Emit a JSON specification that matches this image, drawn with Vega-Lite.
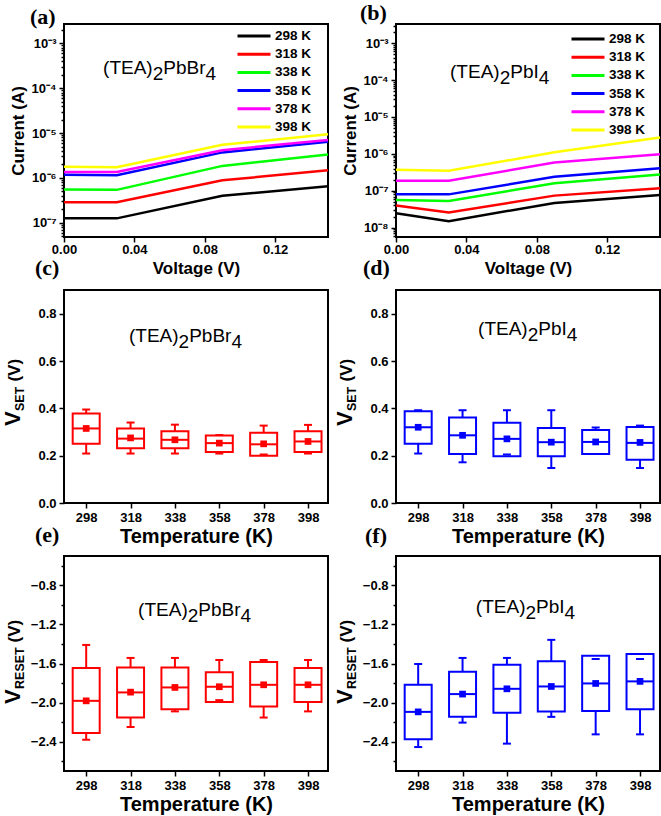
{
 "$schema": "https://vega.github.io/schema/vega-lite/v6.json",
 "background": "white",
 "padding": {"left": 0, "top": 0, "right": 0, "bottom": 0},
 "config": {
  "font": "Liberation Sans",
  "view": {"stroke": "black", "strokeWidth": 2},
  "axis": {"domain": false, "grid": false, "tickColor": "black", "tickWidth": 1.5, "labelFont": "Liberation Sans", "labelFontWeight": "bold", "labelFontSize": 13, "labelColor": "black", "labelPadding": 3, "labelFlush": false, "labelOverlap": false, "titleFont": "Liberation Sans", "titleFontWeight": "bold", "titleColor": "black", "titlePadding": 4},
  "title": {"font": "Liberation Serif", "fontSize": 22, "fontWeight": "bold", "anchor": "start", "frame": "group", "color": "black"},
  "text": {"font": "Liberation Sans", "color": "black"}
 },
 "resolve": {"scale": {"color": "independent"}, "legend": {"color": "independent"}},
 "datasets": {
  "iv_a": [
   {"T": "298 K", "V": 0, "I": 1.25e-7}, {"T": "298 K", "V": 0.03, "I": 1.25e-7}, {"T": "298 K", "V": 0.09, "I": 4.0e-7}, {"T": "298 K", "V": 0.15, "I": 6.5e-7},
   {"T": "318 K", "V": 0, "I": 2.85e-7}, {"T": "318 K", "V": 0.03, "I": 2.85e-7}, {"T": "318 K", "V": 0.09, "I": 8.8e-7}, {"T": "318 K", "V": 0.15, "I": 1.48e-6},
   {"T": "338 K", "V": 0, "I": 5.5e-7}, {"T": "338 K", "V": 0.03, "I": 5.4e-7}, {"T": "338 K", "V": 0.09, "I": 1.85e-6}, {"T": "338 K", "V": 0.15, "I": 3.3e-6},
   {"T": "358 K", "V": 0, "I": 1.17e-6}, {"T": "358 K", "V": 0.03, "I": 1.15e-6}, {"T": "358 K", "V": 0.09, "I": 3.7e-6}, {"T": "358 K", "V": 0.15, "I": 6.4e-6},
   {"T": "378 K", "V": 0, "I": 1.36e-6}, {"T": "378 K", "V": 0.03, "I": 1.36e-6}, {"T": "378 K", "V": 0.09, "I": 4.15e-6}, {"T": "378 K", "V": 0.15, "I": 7.0e-6},
   {"T": "398 K", "V": 0, "I": 1.76e-6}, {"T": "398 K", "V": 0.03, "I": 1.72e-6}, {"T": "398 K", "V": 0.09, "I": 5.45e-6}, {"T": "398 K", "V": 0.15, "I": 9.4e-6}
  ],
  "iv_b": [
   {"T": "298 K", "V": 0, "I": 2.45e-8}, {"T": "298 K", "V": 0.03, "I": 1.5e-8}, {"T": "298 K", "V": 0.09, "I": 4.7e-8}, {"T": "298 K", "V": 0.15, "I": 7.7e-8},
   {"T": "318 K", "V": 0, "I": 4.0e-8}, {"T": "318 K", "V": 0.03, "I": 2.6e-8}, {"T": "318 K", "V": 0.09, "I": 7.4e-8}, {"T": "318 K", "V": 0.15, "I": 1.18e-7},
   {"T": "338 K", "V": 0, "I": 5.6e-8}, {"T": "338 K", "V": 0.03, "I": 5.3e-8}, {"T": "338 K", "V": 0.09, "I": 1.6e-7}, {"T": "338 K", "V": 0.15, "I": 2.77e-7},
   {"T": "358 K", "V": 0, "I": 8.0e-8}, {"T": "358 K", "V": 0.03, "I": 8.0e-8}, {"T": "358 K", "V": 0.09, "I": 2.4e-7}, {"T": "358 K", "V": 0.15, "I": 4.1e-7},
   {"T": "378 K", "V": 0, "I": 1.87e-7}, {"T": "378 K", "V": 0.03, "I": 1.87e-7}, {"T": "378 K", "V": 0.09, "I": 5.85e-7}, {"T": "378 K", "V": 0.15, "I": 9.8e-7},
   {"T": "398 K", "V": 0, "I": 3.7e-7}, {"T": "398 K", "V": 0.03, "I": 3.5e-7}, {"T": "398 K", "V": 0.09, "I": 1.1e-6}, {"T": "398 K", "V": 0.15, "I": 2.77e-6}
  ],
  "set_br": [
   {"T": 298, "wlo": 0.209, "q1": 0.25, "med": 0.315, "q3": 0.378, "whi": 0.395, "mean": 0.315},
   {"T": 318, "wlo": 0.209, "q1": 0.231, "med": 0.272, "q3": 0.315, "whi": 0.34, "mean": 0.275},
   {"T": 338, "wlo": 0.209, "q1": 0.231, "med": 0.267, "q3": 0.303, "whi": 0.331, "mean": 0.267},
   {"T": 358, "wlo": 0.209, "q1": 0.216, "med": 0.253, "q3": 0.285, "whi": 0.287, "mean": 0.253},
   {"T": 378, "wlo": 0.205, "q1": 0.2, "med": 0.248, "q3": 0.297, "whi": 0.327, "mean": 0.25},
   {"T": 398, "wlo": 0.209, "q1": 0.215, "med": 0.26, "q3": 0.303, "whi": 0.33, "mean": 0.26}
  ],
  "set_i": [
   {"T": 298, "wlo": 0.209, "q1": 0.25, "med": 0.32, "q3": 0.388, "whi": 0.392, "mean": 0.32},
   {"T": 318, "wlo": 0.172, "q1": 0.207, "med": 0.286, "q3": 0.361, "whi": 0.392, "mean": 0.286},
   {"T": 338, "wlo": 0.205, "q1": 0.198, "med": 0.271, "q3": 0.339, "whi": 0.392, "mean": 0.271},
   {"T": 358, "wlo": 0.148, "q1": 0.198, "med": 0.257, "q3": 0.317, "whi": 0.392, "mean": 0.257},
   {"T": 378, "wlo": 0.207, "q1": 0.207, "med": 0.258, "q3": 0.308, "whi": 0.319, "mean": 0.258},
   {"T": 398, "wlo": 0.148, "q1": 0.183, "med": 0.254, "q3": 0.321, "whi": 0.327, "mean": 0.256}
  ],
  "reset_br": [
   {"T": 298, "wlo": -2.38, "q1": -2.31, "med": -1.982, "q3": -1.646, "whi": -1.41, "mean": -1.982},
   {"T": 318, "wlo": -2.25, "q1": -2.153, "med": -1.896, "q3": -1.64, "whi": -1.543, "mean": -1.893},
   {"T": 338, "wlo": -2.09, "q1": -2.067, "med": -1.845, "q3": -1.64, "whi": -1.543, "mean": -1.845},
   {"T": 358, "wlo": -1.975, "q1": -1.995, "med": -1.838, "q3": -1.69, "whi": -1.564, "mean": -1.838},
   {"T": 378, "wlo": -2.153, "q1": -2.04, "med": -1.818, "q3": -1.584, "whi": -1.564, "mean": -1.818},
   {"T": 398, "wlo": -2.09, "q1": -1.995, "med": -1.818, "q3": -1.646, "whi": -1.564, "mean": -1.818}
  ],
  "reset_i": [
   {"T": 298, "wlo": -2.455, "q1": -2.376, "med": -2.095, "q3": -1.818, "whi": -1.605, "mean": -2.095},
   {"T": 318, "wlo": -2.205, "q1": -2.146, "med": -1.913, "q3": -1.684, "whi": -1.543, "mean": -1.913},
   {"T": 338, "wlo": -2.42, "q1": -2.105, "med": -1.859, "q3": -1.612, "whi": -1.543, "mean": -1.859},
   {"T": 358, "wlo": -2.146, "q1": -2.09, "med": -1.835, "q3": -1.578, "whi": -1.358, "mean": -1.835},
   {"T": 378, "wlo": -2.325, "q1": -2.085, "med": -1.804, "q3": -1.52, "whi": -1.554, "mean": -1.804},
   {"T": 398, "wlo": -2.325, "q1": -2.067, "med": -1.783, "q3": -1.502, "whi": -1.554, "mean": -1.783}
  ]
 },
 "columns": 2,
 "spacing": {"row": 53, "column": 68},
 "bounds": "flush",
 "concat": [
  {
   "width": 264, "height": 213,
   "title": {"text": "(a)", "dx": -34, "offset": -5},
   "layer": [
    {"data": {"name": "iv_a"}, "mark": {"type": "line", "strokeWidth": 2.5},
     "encoding": {
      "x": {"field": "V", "type": "quantitative", "scale": {"domain": [0, 0.15], "nice": false, "zero": false},
            "axis": {"title": "Voltage (V)", "titleFontSize": 17, "titlePadding": 4, "labelPadding": 1, "values": [0, 0.02, 0.04, 0.06, 0.08, 0.1, 0.12, 0.14], "labelExpr": "round(datum.value*100) % 4 == 0 ? format(datum.value, '.2f') : ''", "tickSize": {"condition": {"test": "round(datum.value*100) % 4 == 0", "value": 5}, "value": 3}}},
      "y": {"field": "I", "type": "quantitative", "scale": {"type": "log", "domain": [4.8e-8, 2.7e-3], "nice": false},
            "axis": {"title": "Current (A)", "titleFontSize": 17, "values": [5e-8, 6e-8, 7e-8, 8e-8, 9e-8, 1e-7, 2e-7, 3e-7, 4e-7, 5e-7, 6e-7, 7e-7, 8e-7, 9e-7, 1e-6, 2e-6, 3e-6, 4e-6, 5e-6, 6e-6, 7e-6, 8e-6, 9e-6, 1e-5, 2e-5, 3e-5, 4e-5, 5e-5, 6e-5, 7e-5, 8e-5, 9e-5, 1e-4, 2e-4, 3e-4, 4e-4, 5e-4, 6e-4, 7e-4, 8e-4, 9e-4, 1e-3, 2e-3],
                     "labelExpr": "abs(log(datum.value)/LN10 - round(log(datum.value)/LN10)) < 0.01 ? '10⁻' + ['0','¹','²','³','⁴','⁵','⁶','⁷','⁸','⁹'][-round(log(datum.value)/LN10)] : ''",
                     "tickSize": {"condition": {"test": "abs(log(datum.value)/LN10 - round(log(datum.value)/LN10)) < 0.01", "value": 5}, "value": 3}}},
      "color": {"field": "T", "type": "nominal", "scale": {"domain": ["298 K", "318 K", "338 K", "358 K", "378 K", "398 K"], "range": ["#000000", "#ff0000", "#00ff00", "#0000ff", "#ff00ff", "#ffff00"]},
                "legend": {"orient": "none", "legendX": 183, "legendY": 5, "title": null, "symbolType": "M-3,0H3", "symbolSize": 121, "symbolStrokeWidth": 3, "labelFontSize": 13.5, "labelFontWeight": "bold", "labelColor": "black", "rowPadding": 4.2, "padding": 0, "labelOffset": 14}}
     }},
    {"data": {"values": [{}]}, "mark": {"type": "text", "text": "(TEA)", "align": "left", "baseline": "alphabetic", "fontSize": 19},
     "encoding": {"x": {"datum": 0.0222, "type": "quantitative", "scale": {"domain": [0, 0.15], "nice": false, "zero": false}}, "y": {"datum": 2.07e-4, "type": "quantitative", "scale": {"type": "log", "domain": [4.8e-8, 2.7e-3], "nice": false}}}},
    {"data": {"values": [{}]}, "mark": {"type": "text", "text": "2", "align": "left", "baseline": "alphabetic", "fontSize": 19, "dx": 49.6, "dy": 6},
     "encoding": {"x": {"datum": 0.0222, "type": "quantitative", "scale": {"domain": [0, 0.15], "nice": false, "zero": false}}, "y": {"datum": 2.07e-4, "type": "quantitative", "scale": {"type": "log", "domain": [4.8e-8, 2.7e-3], "nice": false}}}},
    {"data": {"values": [{}]}, "mark": {"type": "text", "text": "PbBr", "align": "left", "baseline": "alphabetic", "fontSize": 19, "dx": 60.2},
     "encoding": {"x": {"datum": 0.0222, "type": "quantitative", "scale": {"domain": [0, 0.15], "nice": false, "zero": false}}, "y": {"datum": 2.07e-4, "type": "quantitative", "scale": {"type": "log", "domain": [4.8e-8, 2.7e-3], "nice": false}}}},
    {"data": {"values": [{}]}, "mark": {"type": "text", "text": "4", "align": "left", "baseline": "alphabetic", "fontSize": 19, "dx": 102.4, "dy": 6},
     "encoding": {"x": {"datum": 0.0222, "type": "quantitative", "scale": {"domain": [0, 0.15], "nice": false, "zero": false}}, "y": {"datum": 2.07e-4, "type": "quantitative", "scale": {"type": "log", "domain": [4.8e-8, 2.7e-3], "nice": false}}}}
   ]
  },
  {
   "width": 264, "height": 213,
   "title": {"text": "(b)", "dx": -36, "offset": -5},
   "layer": [
    {"data": {"name": "iv_b"}, "mark": {"type": "line", "strokeWidth": 2.5},
     "encoding": {
      "x": {"field": "V", "type": "quantitative", "scale": {"domain": [0, 0.15], "nice": false, "zero": false},
            "axis": {"title": "Voltage (V)", "titleFontSize": 17, "titlePadding": 4, "labelPadding": 1, "values": [0, 0.02, 0.04, 0.06, 0.08, 0.1, 0.12, 0.14], "labelExpr": "round(datum.value*100) % 4 == 0 ? format(datum.value, '.2f') : ''", "tickSize": {"condition": {"test": "round(datum.value*100) % 4 == 0", "value": 5}, "value": 3}}},
      "y": {"field": "I", "type": "quantitative", "scale": {"type": "log", "domain": [5.6e-9, 3.3e-3], "nice": false},
            "axis": {"title": "Current (A)", "titleFontSize": 17, "values": [6e-9, 7e-9, 8e-9, 9e-9, 1e-8, 2e-8, 3e-8, 4e-8, 5e-8, 6e-8, 7e-8, 8e-8, 9e-8, 1e-7, 2e-7, 3e-7, 4e-7, 5e-7, 6e-7, 7e-7, 8e-7, 9e-7, 1e-6, 2e-6, 3e-6, 4e-6, 5e-6, 6e-6, 7e-6, 8e-6, 9e-6, 1e-5, 2e-5, 3e-5, 4e-5, 5e-5, 6e-5, 7e-5, 8e-5, 9e-5, 1e-4, 2e-4, 3e-4, 4e-4, 5e-4, 6e-4, 7e-4, 8e-4, 9e-4, 1e-3, 2e-3, 3e-3],
                     "labelExpr": "abs(log(datum.value)/LN10 - round(log(datum.value)/LN10)) < 0.01 ? '10⁻' + ['0','¹','²','³','⁴','⁵','⁶','⁷','⁸','⁹'][-round(log(datum.value)/LN10)] : ''",
                     "tickSize": {"condition": {"test": "abs(log(datum.value)/LN10 - round(log(datum.value)/LN10)) < 0.01", "value": 5}, "value": 3}}},
      "color": {"field": "T", "type": "nominal", "scale": {"domain": ["298 K", "318 K", "338 K", "358 K", "378 K", "398 K"], "range": ["#000000", "#ff0000", "#00ff00", "#0000ff", "#ff00ff", "#ffff00"]},
                "legend": {"orient": "none", "legendX": 185, "legendY": 8, "title": null, "symbolType": "M-3,0H3", "symbolSize": 121, "symbolStrokeWidth": 3, "labelFontSize": 13.5, "labelFontWeight": "bold", "labelColor": "black", "rowPadding": 4.2, "padding": 0, "labelOffset": 14}}
     }},
    {"data": {"values": [{}]}, "mark": {"type": "text", "text": "(TEA)", "align": "left", "baseline": "alphabetic", "fontSize": 19},
     "encoding": {"x": {"datum": 0.0307, "type": "quantitative", "scale": {"domain": [0, 0.15], "nice": false, "zero": false}}, "y": {"datum": 1.15e-4, "type": "quantitative", "scale": {"type": "log", "domain": [5.6e-9, 3.3e-3], "nice": false}}}},
    {"data": {"values": [{}]}, "mark": {"type": "text", "text": "2", "align": "left", "baseline": "alphabetic", "fontSize": 19, "dx": 49.6, "dy": 6},
     "encoding": {"x": {"datum": 0.0307, "type": "quantitative", "scale": {"domain": [0, 0.15], "nice": false, "zero": false}}, "y": {"datum": 1.15e-4, "type": "quantitative", "scale": {"type": "log", "domain": [5.6e-9, 3.3e-3], "nice": false}}}},
    {"data": {"values": [{}]}, "mark": {"type": "text", "text": "PbI", "align": "left", "baseline": "alphabetic", "fontSize": 19, "dx": 60.2},
     "encoding": {"x": {"datum": 0.0307, "type": "quantitative", "scale": {"domain": [0, 0.15], "nice": false, "zero": false}}, "y": {"datum": 1.15e-4, "type": "quantitative", "scale": {"type": "log", "domain": [5.6e-9, 3.3e-3], "nice": false}}}},
    {"data": {"values": [{}]}, "mark": {"type": "text", "text": "4", "align": "left", "baseline": "alphabetic", "fontSize": 19, "dx": 88.7, "dy": 6},
     "encoding": {"x": {"datum": 0.0307, "type": "quantitative", "scale": {"domain": [0, 0.15], "nice": false, "zero": false}}, "y": {"datum": 1.15e-4, "type": "quantitative", "scale": {"type": "log", "domain": [5.6e-9, 3.3e-3], "nice": false}}}}
   ]
  },
  {
   "width": 264, "height": 213,
   "title": {"text": "(c)", "dx": -29, "offset": 10},
   "layer": [
    {"data": {"name": "set_br"}, "mark": {"type": "rule", "color": "#ff0000", "strokeWidth": 2},
     "encoding": {
      "x": {"field": "T", "type": "quantitative", "scale": {"domain": [288, 407], "nice": false, "zero": false}, "axis": {"title": "Temperature (K)", "titleFontSize": 20, "titlePadding": 2, "values": [298, 318, 338, 358, 378, 398], "format": "d", "tickSize": 5}},
      "y": {"field": "wlo", "type": "quantitative", "scale": {"domain": [0, 0.9], "nice": false, "zero": false},
            "axis": {"title": null, "values": [0, 0.1, 0.2, 0.3, 0.4, 0.5, 0.6, 0.7, 0.8, 0.9], "labelExpr": "round(datum.value*10) % 2 == 0 ? format(datum.value, '.1f') : ''", "tickSize": {"condition": {"test": "round(datum.value*10) % 2 == 0", "value": 5}, "value": 3}}},
      "y2": {"field": "whi"}}},
    {"data": {"name": "set_br"}, "mark": {"type": "rect", "xOffset": -13.5, "x2Offset": 13.5, "fill": "white", "stroke": "#ff0000", "strokeWidth": 2},
     "encoding": {"x": {"field": "T", "type": "quantitative", "scale": {"domain": [288, 407], "nice": false, "zero": false}}, "x2": {"field": "T"},
      "y": {"field": "q1", "type": "quantitative", "title": null, "scale": {"domain": [0, 0.9], "nice": false, "zero": false}}, "y2": {"field": "q3"}}},
    {"data": {"name": "set_br"}, "mark": {"type": "rule", "color": "#ff0000", "strokeWidth": 2, "xOffset": -4, "x2Offset": 4},
     "encoding": {"x": {"field": "T", "type": "quantitative", "scale": {"domain": [288, 407], "nice": false, "zero": false}}, "x2": {"field": "T"},
      "y": {"field": "whi", "type": "quantitative", "title": null, "scale": {"domain": [0, 0.9], "nice": false, "zero": false}}}},
    {"data": {"name": "set_br"}, "mark": {"type": "rule", "color": "#ff0000", "strokeWidth": 2, "xOffset": -4, "x2Offset": 4},
     "encoding": {"x": {"field": "T", "type": "quantitative", "scale": {"domain": [288, 407], "nice": false, "zero": false}}, "x2": {"field": "T"},
      "y": {"field": "wlo", "type": "quantitative", "title": null, "scale": {"domain": [0, 0.9], "nice": false, "zero": false}}}},
    {"data": {"name": "set_br"}, "mark": {"type": "rule", "color": "#ff0000", "strokeWidth": 2, "xOffset": -13.5, "x2Offset": 13.5},
     "encoding": {"x": {"field": "T", "type": "quantitative", "scale": {"domain": [288, 407], "nice": false, "zero": false}}, "x2": {"field": "T"},
      "y": {"field": "med", "type": "quantitative", "title": null, "scale": {"domain": [0, 0.9], "nice": false, "zero": false}}}},
    {"data": {"name": "set_br"}, "mark": {"type": "point", "shape": "square", "filled": true, "size": 45, "color": "#ff0000", "opacity": 1},
     "encoding": {"x": {"field": "T", "type": "quantitative", "scale": {"domain": [288, 407], "nice": false, "zero": false}},
      "y": {"field": "mean", "type": "quantitative", "title": null, "scale": {"domain": [0, 0.9], "nice": false, "zero": false}}}},
    {"data": {"values": [{}]}, "mark": {"type": "text", "text": "(TEA)", "align": "left", "baseline": "alphabetic", "fontSize": 19},
     "encoding": {"x": {"datum": 317.3, "type": "quantitative", "scale": {"domain": [288, 407], "nice": false, "zero": false}}, "y": {"datum": 0.68, "type": "quantitative", "scale": {"domain": [0, 0.9], "nice": false, "zero": false}}}},
    {"data": {"values": [{}]}, "mark": {"type": "text", "text": "2", "align": "left", "baseline": "alphabetic", "fontSize": 19, "dx": 49.6, "dy": 6},
     "encoding": {"x": {"datum": 317.3, "type": "quantitative", "scale": {"domain": [288, 407], "nice": false, "zero": false}}, "y": {"datum": 0.68, "type": "quantitative", "scale": {"domain": [0, 0.9], "nice": false, "zero": false}}}},
    {"data": {"values": [{}]}, "mark": {"type": "text", "text": "PbBr", "align": "left", "baseline": "alphabetic", "fontSize": 19, "dx": 60.2},
     "encoding": {"x": {"datum": 317.3, "type": "quantitative", "scale": {"domain": [288, 407], "nice": false, "zero": false}}, "y": {"datum": 0.68, "type": "quantitative", "scale": {"domain": [0, 0.9], "nice": false, "zero": false}}}},
    {"data": {"values": [{}]}, "mark": {"type": "text", "text": "4", "align": "left", "baseline": "alphabetic", "fontSize": 19, "dx": 102.4, "dy": 6},
     "encoding": {"x": {"datum": 317.3, "type": "quantitative", "scale": {"domain": [288, 407], "nice": false, "zero": false}}, "y": {"datum": 0.68, "type": "quantitative", "scale": {"domain": [0, 0.9], "nice": false, "zero": false}}}},
    {"data": {"values": [{}]}, "mark": {"type": "text", "text": "V", "angle": 270, "align": "left", "baseline": "alphabetic", "fontSize": 22, "fontWeight": "bold"},
     "encoding": {"x": {"datum": 268, "type": "quantitative", "scale": {"domain": [288, 407], "nice": false, "zero": false}}, "y": {"datum": 0.325, "type": "quantitative", "scale": {"domain": [0, 0.9], "nice": false, "zero": false}}}},
    {"data": {"values": [{}]}, "mark": {"type": "text", "text": "SET", "angle": 270, "align": "left", "baseline": "alphabetic", "fontSize": 12.5, "fontWeight": "bold", "dx": 15, "dy": 4},
     "encoding": {"x": {"datum": 268, "type": "quantitative", "scale": {"domain": [288, 407], "nice": false, "zero": false}}, "y": {"datum": 0.325, "type": "quantitative", "scale": {"domain": [0, 0.9], "nice": false, "zero": false}}}},
    {"data": {"values": [{}]}, "mark": {"type": "text", "text": "(V)", "angle": 270, "align": "left", "baseline": "alphabetic", "fontSize": 17, "fontWeight": "bold", "dx": 44.5},
     "encoding": {"x": {"datum": 268, "type": "quantitative", "scale": {"domain": [288, 407], "nice": false, "zero": false}}, "y": {"datum": 0.325, "type": "quantitative", "scale": {"domain": [0, 0.9], "nice": false, "zero": false}}}}
   ]
  },
  {
   "width": 264, "height": 213,
   "title": {"text": "(d)", "dx": -33, "offset": 10},
   "layer": [
    {"data": {"name": "set_i"}, "mark": {"type": "rule", "color": "#0000ff", "strokeWidth": 2},
     "encoding": {
      "x": {"field": "T", "type": "quantitative", "scale": {"domain": [288, 407], "nice": false, "zero": false}, "axis": {"title": "Temperature (K)", "titleFontSize": 20, "titlePadding": 2, "values": [298, 318, 338, 358, 378, 398], "format": "d", "tickSize": 5}},
      "y": {"field": "wlo", "type": "quantitative", "scale": {"domain": [0, 0.9], "nice": false, "zero": false},
            "axis": {"title": null, "values": [0, 0.1, 0.2, 0.3, 0.4, 0.5, 0.6, 0.7, 0.8, 0.9], "labelExpr": "round(datum.value*10) % 2 == 0 ? format(datum.value, '.1f') : ''", "tickSize": {"condition": {"test": "round(datum.value*10) % 2 == 0", "value": 5}, "value": 3}}},
      "y2": {"field": "whi"}}},
    {"data": {"name": "set_i"}, "mark": {"type": "rect", "xOffset": -13.5, "x2Offset": 13.5, "fill": "white", "stroke": "#0000ff", "strokeWidth": 2},
     "encoding": {"x": {"field": "T", "type": "quantitative", "scale": {"domain": [288, 407], "nice": false, "zero": false}}, "x2": {"field": "T"},
      "y": {"field": "q1", "type": "quantitative", "title": null, "scale": {"domain": [0, 0.9], "nice": false, "zero": false}}, "y2": {"field": "q3"}}},
    {"data": {"name": "set_i"}, "mark": {"type": "rule", "color": "#0000ff", "strokeWidth": 2, "xOffset": -4, "x2Offset": 4},
     "encoding": {"x": {"field": "T", "type": "quantitative", "scale": {"domain": [288, 407], "nice": false, "zero": false}}, "x2": {"field": "T"},
      "y": {"field": "whi", "type": "quantitative", "title": null, "scale": {"domain": [0, 0.9], "nice": false, "zero": false}}}},
    {"data": {"name": "set_i"}, "mark": {"type": "rule", "color": "#0000ff", "strokeWidth": 2, "xOffset": -4, "x2Offset": 4},
     "encoding": {"x": {"field": "T", "type": "quantitative", "scale": {"domain": [288, 407], "nice": false, "zero": false}}, "x2": {"field": "T"},
      "y": {"field": "wlo", "type": "quantitative", "title": null, "scale": {"domain": [0, 0.9], "nice": false, "zero": false}}}},
    {"data": {"name": "set_i"}, "mark": {"type": "rule", "color": "#0000ff", "strokeWidth": 2, "xOffset": -13.5, "x2Offset": 13.5},
     "encoding": {"x": {"field": "T", "type": "quantitative", "scale": {"domain": [288, 407], "nice": false, "zero": false}}, "x2": {"field": "T"},
      "y": {"field": "med", "type": "quantitative", "title": null, "scale": {"domain": [0, 0.9], "nice": false, "zero": false}}}},
    {"data": {"name": "set_i"}, "mark": {"type": "point", "shape": "square", "filled": true, "size": 45, "color": "#0000ff", "opacity": 1},
     "encoding": {"x": {"field": "T", "type": "quantitative", "scale": {"domain": [288, 407], "nice": false, "zero": false}},
      "y": {"field": "mean", "type": "quantitative", "title": null, "scale": {"domain": [0, 0.9], "nice": false, "zero": false}}}},
    {"data": {"values": [{}]}, "mark": {"type": "text", "text": "(TEA)", "align": "left", "baseline": "alphabetic", "fontSize": 19},
     "encoding": {"x": {"datum": 325, "type": "quantitative", "scale": {"domain": [288, 407], "nice": false, "zero": false}}, "y": {"datum": 0.71, "type": "quantitative", "scale": {"domain": [0, 0.9], "nice": false, "zero": false}}}},
    {"data": {"values": [{}]}, "mark": {"type": "text", "text": "2", "align": "left", "baseline": "alphabetic", "fontSize": 19, "dx": 49.6, "dy": 6},
     "encoding": {"x": {"datum": 325, "type": "quantitative", "scale": {"domain": [288, 407], "nice": false, "zero": false}}, "y": {"datum": 0.71, "type": "quantitative", "scale": {"domain": [0, 0.9], "nice": false, "zero": false}}}},
    {"data": {"values": [{}]}, "mark": {"type": "text", "text": "PbI", "align": "left", "baseline": "alphabetic", "fontSize": 19, "dx": 60.2},
     "encoding": {"x": {"datum": 325, "type": "quantitative", "scale": {"domain": [288, 407], "nice": false, "zero": false}}, "y": {"datum": 0.71, "type": "quantitative", "scale": {"domain": [0, 0.9], "nice": false, "zero": false}}}},
    {"data": {"values": [{}]}, "mark": {"type": "text", "text": "4", "align": "left", "baseline": "alphabetic", "fontSize": 19, "dx": 88.7, "dy": 6},
     "encoding": {"x": {"datum": 325, "type": "quantitative", "scale": {"domain": [288, 407], "nice": false, "zero": false}}, "y": {"datum": 0.71, "type": "quantitative", "scale": {"domain": [0, 0.9], "nice": false, "zero": false}}}},
    {"data": {"values": [{}]}, "mark": {"type": "text", "text": "V", "angle": 270, "align": "left", "baseline": "alphabetic", "fontSize": 22, "fontWeight": "bold"},
     "encoding": {"x": {"datum": 268, "type": "quantitative", "scale": {"domain": [288, 407], "nice": false, "zero": false}}, "y": {"datum": 0.325, "type": "quantitative", "scale": {"domain": [0, 0.9], "nice": false, "zero": false}}}},
    {"data": {"values": [{}]}, "mark": {"type": "text", "text": "SET", "angle": 270, "align": "left", "baseline": "alphabetic", "fontSize": 12.5, "fontWeight": "bold", "dx": 15, "dy": 4},
     "encoding": {"x": {"datum": 268, "type": "quantitative", "scale": {"domain": [288, 407], "nice": false, "zero": false}}, "y": {"datum": 0.325, "type": "quantitative", "scale": {"domain": [0, 0.9], "nice": false, "zero": false}}}},
    {"data": {"values": [{}]}, "mark": {"type": "text", "text": "(V)", "angle": 270, "align": "left", "baseline": "alphabetic", "fontSize": 17, "fontWeight": "bold", "dx": 44.5},
     "encoding": {"x": {"datum": 268, "type": "quantitative", "scale": {"domain": [288, 407], "nice": false, "zero": false}}, "y": {"datum": 0.325, "type": "quantitative", "scale": {"domain": [0, 0.9], "nice": false, "zero": false}}}}
   ]
  },
  {
   "width": 264, "height": 215,
   "title": {"text": "(e)", "dx": -29, "offset": 9},
   "resolve": {"axis": {"y": "independent"}},
   "layer": [
    {"data": {"name": "reset_br"}, "mark": {"type": "rule", "color": "#ff0000", "strokeWidth": 2},
     "encoding": {
      "x": {"field": "T", "type": "quantitative", "scale": {"domain": [288, 407], "nice": false, "zero": false}, "axis": {"title": "Temperature (K)", "titleFontSize": 20, "titlePadding": 2, "values": [298, 318, 338, 358, 378, 398], "format": "d", "tickSize": 5}},
      "y": {"field": "wlo", "type": "quantitative", "scale": {"domain": [-2.7, -0.5], "nice": false, "zero": false},
            "axis": {"title": null, "format": ".1f", "values": [-2.4, -2.0, -1.6, -1.2, -0.8], "tickSize": 5}},
      "y2": {"field": "whi"}}},
    {"data": {"name": "reset_br"}, "mark": {"type": "rect", "xOffset": -13.5, "x2Offset": 13.5, "fill": "white", "stroke": "#ff0000", "strokeWidth": 2},
     "encoding": {"x": {"field": "T", "type": "quantitative", "scale": {"domain": [288, 407], "nice": false, "zero": false}}, "x2": {"field": "T"},
      "y": {"field": "q1", "type": "quantitative", "axis": null, "scale": {"domain": [-2.7, -0.5], "nice": false, "zero": false}}, "y2": {"field": "q3"}}},
    {"data": {"name": "reset_br"}, "mark": {"type": "rule", "color": "#ff0000", "strokeWidth": 2, "xOffset": -4, "x2Offset": 4},
     "encoding": {"x": {"field": "T", "type": "quantitative", "scale": {"domain": [288, 407], "nice": false, "zero": false}}, "x2": {"field": "T"},
      "y": {"field": "whi", "type": "quantitative", "axis": null, "scale": {"domain": [-2.7, -0.5], "nice": false, "zero": false}}}},
    {"data": {"name": "reset_br"}, "mark": {"type": "rule", "color": "#ff0000", "strokeWidth": 2, "xOffset": -4, "x2Offset": 4},
     "encoding": {"x": {"field": "T", "type": "quantitative", "scale": {"domain": [288, 407], "nice": false, "zero": false}}, "x2": {"field": "T"},
      "y": {"field": "wlo", "type": "quantitative", "axis": null, "scale": {"domain": [-2.7, -0.5], "nice": false, "zero": false}}}},
    {"data": {"name": "reset_br"}, "mark": {"type": "rule", "color": "#ff0000", "strokeWidth": 2, "xOffset": -13.5, "x2Offset": 13.5},
     "encoding": {"x": {"field": "T", "type": "quantitative", "scale": {"domain": [288, 407], "nice": false, "zero": false}}, "x2": {"field": "T"},
      "y": {"field": "med", "type": "quantitative", "axis": null, "scale": {"domain": [-2.7, -0.5], "nice": false, "zero": false}}}},
    {"data": {"name": "reset_br"}, "mark": {"type": "point", "shape": "square", "filled": true, "size": 45, "color": "#ff0000", "opacity": 1},
     "encoding": {"x": {"field": "T", "type": "quantitative", "scale": {"domain": [288, 407], "nice": false, "zero": false}},
      "y": {"field": "mean", "type": "quantitative", "scale": {"domain": [-2.7, -0.5], "nice": false, "zero": false}, "axis": {"orient": "left", "title": null, "labels": false, "values": [-2.6, -2.2, -1.8, -1.4, -1.0, -0.6], "tickSize": 3}}}},
    {"data": {"values": [{}]}, "mark": {"type": "text", "text": "(TEA)", "align": "left", "baseline": "alphabetic", "fontSize": 19},
     "encoding": {"x": {"datum": 321.4, "type": "quantitative", "scale": {"domain": [288, 407], "nice": false, "zero": false}}, "y": {"datum": -1.114, "type": "quantitative", "axis": null, "scale": {"domain": [-2.7, -0.5], "nice": false, "zero": false}}}},
    {"data": {"values": [{}]}, "mark": {"type": "text", "text": "2", "align": "left", "baseline": "alphabetic", "fontSize": 19, "dx": 49.6, "dy": 6},
     "encoding": {"x": {"datum": 321.4, "type": "quantitative", "scale": {"domain": [288, 407], "nice": false, "zero": false}}, "y": {"datum": -1.114, "type": "quantitative", "axis": null, "scale": {"domain": [-2.7, -0.5], "nice": false, "zero": false}}}},
    {"data": {"values": [{}]}, "mark": {"type": "text", "text": "PbBr", "align": "left", "baseline": "alphabetic", "fontSize": 19, "dx": 60.2},
     "encoding": {"x": {"datum": 321.4, "type": "quantitative", "scale": {"domain": [288, 407], "nice": false, "zero": false}}, "y": {"datum": -1.114, "type": "quantitative", "axis": null, "scale": {"domain": [-2.7, -0.5], "nice": false, "zero": false}}}},
    {"data": {"values": [{}]}, "mark": {"type": "text", "text": "4", "align": "left", "baseline": "alphabetic", "fontSize": 19, "dx": 102.4, "dy": 6},
     "encoding": {"x": {"datum": 321.4, "type": "quantitative", "scale": {"domain": [288, 407], "nice": false, "zero": false}}, "y": {"datum": -1.114, "type": "quantitative", "axis": null, "scale": {"domain": [-2.7, -0.5], "nice": false, "zero": false}}}},
    {"data": {"values": [{}]}, "mark": {"type": "text", "text": "V", "angle": 270, "align": "left", "baseline": "alphabetic", "fontSize": 22, "fontWeight": "bold"},
     "encoding": {"x": {"datum": 268, "type": "quantitative", "scale": {"domain": [288, 407], "nice": false, "zero": false}}, "y": {"datum": -2.014, "type": "quantitative", "axis": null, "scale": {"domain": [-2.7, -0.5], "nice": false, "zero": false}}}},
    {"data": {"values": [{}]}, "mark": {"type": "text", "text": "RESET", "angle": 270, "align": "left", "baseline": "alphabetic", "fontSize": 12.5, "fontWeight": "bold", "dx": 15, "dy": 4},
     "encoding": {"x": {"datum": 268, "type": "quantitative", "scale": {"domain": [288, 407], "nice": false, "zero": false}}, "y": {"datum": -2.014, "type": "quantitative", "axis": null, "scale": {"domain": [-2.7, -0.5], "nice": false, "zero": false}}}},
    {"data": {"values": [{}]}, "mark": {"type": "text", "text": "(V)", "angle": 270, "align": "left", "baseline": "alphabetic", "fontSize": 17, "fontWeight": "bold", "dx": 61.5},
     "encoding": {"x": {"datum": 268, "type": "quantitative", "scale": {"domain": [288, 407], "nice": false, "zero": false}}, "y": {"datum": -2.014, "type": "quantitative", "axis": null, "scale": {"domain": [-2.7, -0.5], "nice": false, "zero": false}}}}
   ]
  },
  {
   "width": 264, "height": 215,
   "title": {"text": "(f)", "dx": -31, "offset": 8},
   "resolve": {"axis": {"y": "independent"}},
   "layer": [
    {"data": {"name": "reset_i"}, "mark": {"type": "rule", "color": "#0000ff", "strokeWidth": 2},
     "encoding": {
      "x": {"field": "T", "type": "quantitative", "scale": {"domain": [288, 407], "nice": false, "zero": false}, "axis": {"title": "Temperature (K)", "titleFontSize": 20, "titlePadding": 2, "values": [298, 318, 338, 358, 378, 398], "format": "d", "tickSize": 5}},
      "y": {"field": "wlo", "type": "quantitative", "scale": {"domain": [-2.7, -0.5], "nice": false, "zero": false},
            "axis": {"title": null, "format": ".1f", "values": [-2.4, -2.0, -1.6, -1.2, -0.8], "tickSize": 5}},
      "y2": {"field": "whi"}}},
    {"data": {"name": "reset_i"}, "mark": {"type": "rect", "xOffset": -13.5, "x2Offset": 13.5, "fill": "white", "stroke": "#0000ff", "strokeWidth": 2},
     "encoding": {"x": {"field": "T", "type": "quantitative", "scale": {"domain": [288, 407], "nice": false, "zero": false}}, "x2": {"field": "T"},
      "y": {"field": "q1", "type": "quantitative", "axis": null, "scale": {"domain": [-2.7, -0.5], "nice": false, "zero": false}}, "y2": {"field": "q3"}}},
    {"data": {"name": "reset_i"}, "mark": {"type": "rule", "color": "#0000ff", "strokeWidth": 2, "xOffset": -4, "x2Offset": 4},
     "encoding": {"x": {"field": "T", "type": "quantitative", "scale": {"domain": [288, 407], "nice": false, "zero": false}}, "x2": {"field": "T"},
      "y": {"field": "whi", "type": "quantitative", "axis": null, "scale": {"domain": [-2.7, -0.5], "nice": false, "zero": false}}}},
    {"data": {"name": "reset_i"}, "mark": {"type": "rule", "color": "#0000ff", "strokeWidth": 2, "xOffset": -4, "x2Offset": 4},
     "encoding": {"x": {"field": "T", "type": "quantitative", "scale": {"domain": [288, 407], "nice": false, "zero": false}}, "x2": {"field": "T"},
      "y": {"field": "wlo", "type": "quantitative", "axis": null, "scale": {"domain": [-2.7, -0.5], "nice": false, "zero": false}}}},
    {"data": {"name": "reset_i"}, "mark": {"type": "rule", "color": "#0000ff", "strokeWidth": 2, "xOffset": -13.5, "x2Offset": 13.5},
     "encoding": {"x": {"field": "T", "type": "quantitative", "scale": {"domain": [288, 407], "nice": false, "zero": false}}, "x2": {"field": "T"},
      "y": {"field": "med", "type": "quantitative", "axis": null, "scale": {"domain": [-2.7, -0.5], "nice": false, "zero": false}}}},
    {"data": {"name": "reset_i"}, "mark": {"type": "point", "shape": "square", "filled": true, "size": 45, "color": "#0000ff", "opacity": 1},
     "encoding": {"x": {"field": "T", "type": "quantitative", "scale": {"domain": [288, 407], "nice": false, "zero": false}},
      "y": {"field": "mean", "type": "quantitative", "scale": {"domain": [-2.7, -0.5], "nice": false, "zero": false}, "axis": {"orient": "left", "title": null, "labels": false, "values": [-2.6, -2.2, -1.8, -1.4, -1.0, -0.6], "tickSize": 3}}}},
    {"data": {"values": [{}]}, "mark": {"type": "text", "text": "(TEA)", "align": "left", "baseline": "alphabetic", "fontSize": 19},
     "encoding": {"x": {"datum": 324, "type": "quantitative", "scale": {"domain": [288, 407], "nice": false, "zero": false}}, "y": {"datum": -1.083, "type": "quantitative", "axis": null, "scale": {"domain": [-2.7, -0.5], "nice": false, "zero": false}}}},
    {"data": {"values": [{}]}, "mark": {"type": "text", "text": "2", "align": "left", "baseline": "alphabetic", "fontSize": 19, "dx": 49.6, "dy": 6},
     "encoding": {"x": {"datum": 324, "type": "quantitative", "scale": {"domain": [288, 407], "nice": false, "zero": false}}, "y": {"datum": -1.083, "type": "quantitative", "axis": null, "scale": {"domain": [-2.7, -0.5], "nice": false, "zero": false}}}},
    {"data": {"values": [{}]}, "mark": {"type": "text", "text": "PbI", "align": "left", "baseline": "alphabetic", "fontSize": 19, "dx": 60.2},
     "encoding": {"x": {"datum": 324, "type": "quantitative", "scale": {"domain": [288, 407], "nice": false, "zero": false}}, "y": {"datum": -1.083, "type": "quantitative", "axis": null, "scale": {"domain": [-2.7, -0.5], "nice": false, "zero": false}}}},
    {"data": {"values": [{}]}, "mark": {"type": "text", "text": "4", "align": "left", "baseline": "alphabetic", "fontSize": 19, "dx": 88.7, "dy": 6},
     "encoding": {"x": {"datum": 324, "type": "quantitative", "scale": {"domain": [288, 407], "nice": false, "zero": false}}, "y": {"datum": -1.083, "type": "quantitative", "axis": null, "scale": {"domain": [-2.7, -0.5], "nice": false, "zero": false}}}},
    {"data": {"values": [{}]}, "mark": {"type": "text", "text": "V", "angle": 270, "align": "left", "baseline": "alphabetic", "fontSize": 22, "fontWeight": "bold"},
     "encoding": {"x": {"datum": 268, "type": "quantitative", "scale": {"domain": [288, 407], "nice": false, "zero": false}}, "y": {"datum": -2.014, "type": "quantitative", "axis": null, "scale": {"domain": [-2.7, -0.5], "nice": false, "zero": false}}}},
    {"data": {"values": [{}]}, "mark": {"type": "text", "text": "RESET", "angle": 270, "align": "left", "baseline": "alphabetic", "fontSize": 12.5, "fontWeight": "bold", "dx": 15, "dy": 4},
     "encoding": {"x": {"datum": 268, "type": "quantitative", "scale": {"domain": [288, 407], "nice": false, "zero": false}}, "y": {"datum": -2.014, "type": "quantitative", "axis": null, "scale": {"domain": [-2.7, -0.5], "nice": false, "zero": false}}}},
    {"data": {"values": [{}]}, "mark": {"type": "text", "text": "(V)", "angle": 270, "align": "left", "baseline": "alphabetic", "fontSize": 17, "fontWeight": "bold", "dx": 61.5},
     "encoding": {"x": {"datum": 268, "type": "quantitative", "scale": {"domain": [288, 407], "nice": false, "zero": false}}, "y": {"datum": -2.014, "type": "quantitative", "axis": null, "scale": {"domain": [-2.7, -0.5], "nice": false, "zero": false}}}}
   ]
  }
 ]
}
